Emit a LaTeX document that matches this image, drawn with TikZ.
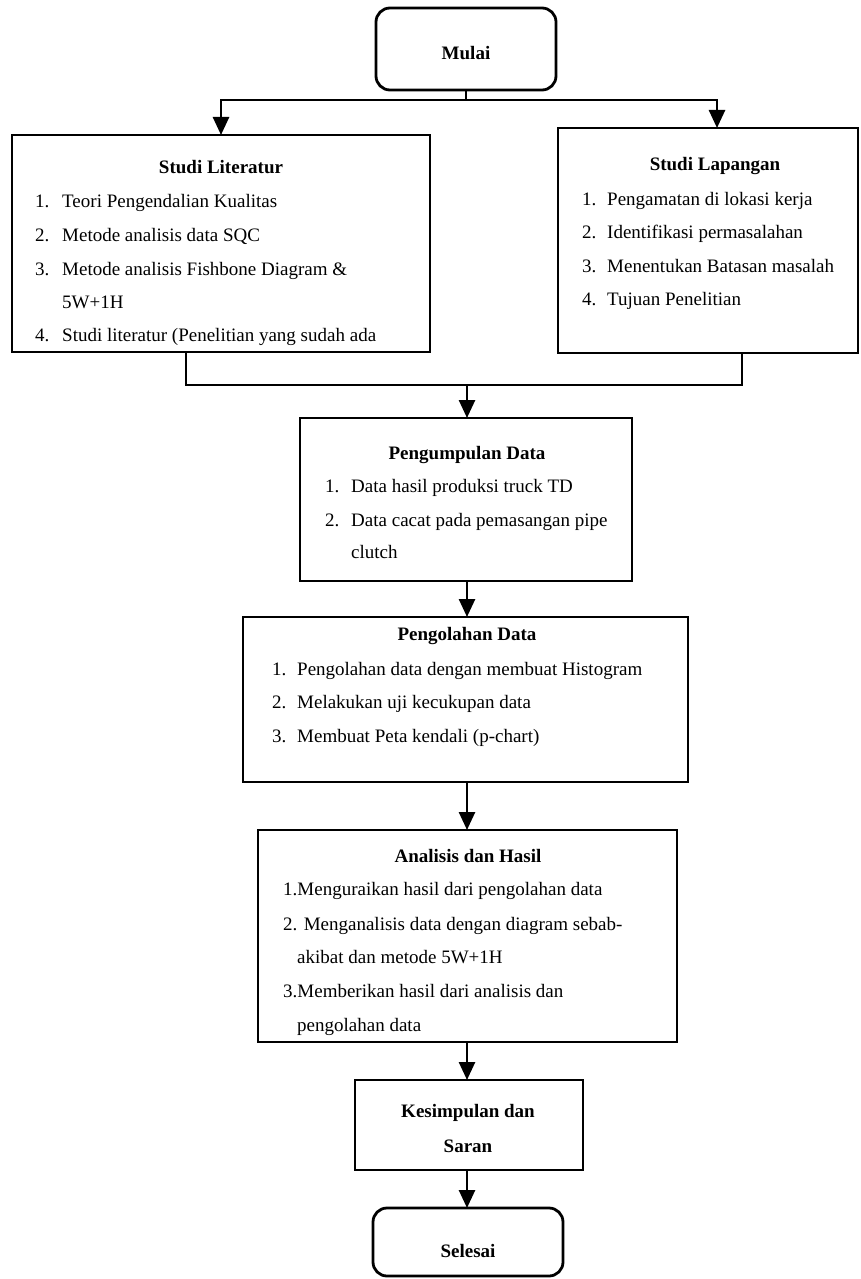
\documentclass[tikz,border=0pt]{standalone}
\usepackage{fontspec}
\setmainfont{Liberation Serif}
\usetikzlibrary{arrows.meta,calc}
\newcommand{\myfs}{\fontsize{19}{23}\selectfont}
\tikzset{
 box/.style={draw, line width=2.8pt, rectangle, inner sep=0pt, outer sep=0pt},
 term/.style={box, rounded corners=14pt},
 conn/.style={line width=2.6pt},
 arr/.style={conn, -{Triangle[width=16pt,length=18pt]}},
 txt/.style={anchor=base west, inner sep=0pt, font=\myfs},
 ttl/.style={anchor=base, inner sep=0pt, font=\myfs\bfseries},
 ctr/.style={anchor=base, inner sep=0pt, font=\myfs},
}
\begin{document}
\begin{tikzpicture}[x=1pt,y=-1pt]
\useasboundingbox (0,0) rectangle (861,1279);
\fill[white] (0,0) rectangle (861,1279);
% boxes
\node[term, minimum width=180pt, minimum height=82pt] (mulai) at (466,49) {};
\node[box, minimum width=418pt, minimum height=217pt] (lit) at (221,243.5) {};
\node[box, minimum width=300pt, minimum height=225pt] (lap) at (708,240.5) {};
\node[box, minimum width=332pt, minimum height=163pt] (pum) at (466,499.5) {};
\node[box, minimum width=445pt, minimum height=165pt] (pol) at (465.5,699.5) {};
\node[box, minimum width=419pt, minimum height=212pt] (ana) at (467.5,936) {};
\node[box, minimum width=228pt, minimum height=90pt] (kes) at (469,1125) {};
\node[term, minimum width=190pt, minimum height=68pt] (sel) at (468,1242) {};
% texts
\node[ttl] (tmulai) at (466,60) {Mulai};
\node[ttl] (litT) at (221,173) {Studi Literatur};
\node[txt] (lit1n) at (35,207) {1.};
\node[txt] (lit1) at (62,207) {Teori Pengendalian Kualitas};
\node[txt] (lit2n) at (35,241) {2.};
\node[txt] (lit2) at (62,241) {Metode analisis data SQC};
\node[txt] (lit3n) at (35,275) {3.};
\node[txt] (lit3) at (62,275) {Metode analisis Fishbone Diagram \&};
\node[txt] (lit3b) at (62,308) {5W+1H};
\node[txt] (lit4n) at (35,341) {4.};
\node[txt] (lit4) at (62,341) {Studi literatur (Penelitian yang sudah ada};
\node[ttl] (lapT) at (715,170) {Studi Lapangan};
\node[txt] (lap1n) at (582,205) {1.};
\node[txt] (lap1) at (607,205) {Pengamatan di lokasi kerja};
\node[txt] (lap2n) at (582,238) {2.};
\node[txt] (lap2) at (607,238) {Identifikasi permasalahan};
\node[txt] (lap3n) at (582,272) {3.};
\node[txt] (lap3) at (607,272) {Menentukan Batasan masalah};
\node[txt] (lap4n) at (582,305) {4.};
\node[txt] (lap4) at (607,305) {Tujuan Penelitian};
\node[ttl] (pumT) at (467,459) {Pengumpulan Data};
\node[txt] (pum1n) at (325,492) {1.};
\node[txt] (pum1) at (351,492) {Data hasil produksi truck TD};
\node[txt] (pum2n) at (325,526) {2.};
\node[txt] (pum2) at (351,526) {Data cacat pada pemasangan pipe};
\node[txt] (pum2b) at (351,558) {clutch};
\node[ttl] (polT) at (467,640) {Pengolahan Data};
\node[txt] (pol1n) at (272,675) {1.};
\node[txt] (pol1) at (297,675) {Pengolahan data dengan membuat Histogram};
\node[txt] (pol2n) at (272,708) {2.};
\node[txt] (pol2) at (297,708) {Melakukan uji kecukupan data};
\node[txt] (pol3n) at (272,742) {3.};
\node[txt] (pol3) at (297,742) {Membuat Peta kendali (p-chart)};
\node[ttl] (anaT) at (468,862) {Analisis dan Hasil};
\node[txt] (ana1) at (283,895) {1.Menguraikan hasil dari pengolahan data};
\node[txt] (ana2) at (283,930) {2. Menganalisis data dengan diagram sebab-};
\node[txt] (ana2b) at (297,963) {akibat dan metode 5W+1H};
\node[txt] (ana3) at (283,997) {3.Memberikan hasil dari analisis dan};
\node[txt] (ana3b) at (297,1031) {pengolahan data};
\node[ttl] (kesT) at (468,1117) {Kesimpulan dan};
\node[ttl] (kesT2) at (468,1152) {Saran};
\node[ttl] (tsel) at (468,1257) {Selesai};
% connectors
\coordinate (split) at (466,100);
\coordinate (rArr) at (717,0);
\draw[conn] (mulai.south) -- (split);
\draw[arr] (split) -| (lit.north);
\draw[arr] (split) -| (rArr |- lap.north);
\coordinate (mL) at (186,385);
\coordinate (mR) at (742,385);
\coordinate (mC) at (467,385);
\draw[conn] (mL |- lit.south) -- (mL) -- (mR) -- (mR |- lap.south);
\draw[arr] (mC) -- (mC |- pum.north);
\coordinate (col) at (467,0);
\draw[arr] (col |- pum.south) -- (col |- pol.north);
\draw[arr] (col |- pol.south) -- (col |- ana.north);
\draw[arr] (col |- ana.south) -- (col |- kes.north);
\draw[arr] (col |- kes.south) -- (col |- sel.north);
\end{tikzpicture}
\end{document}
